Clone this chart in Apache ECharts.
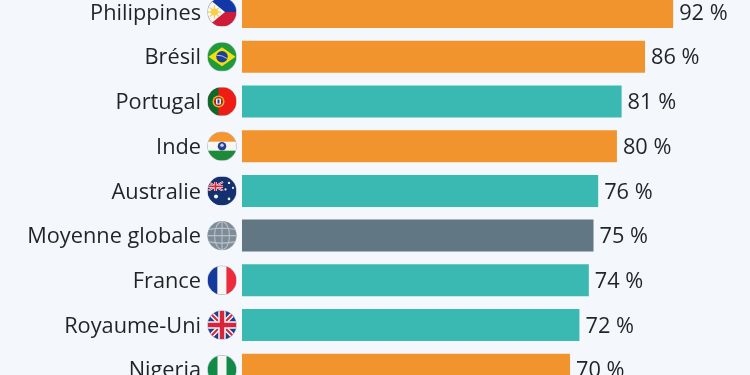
<!DOCTYPE html>
<html><head><meta charset="utf-8">
<style>html,body{margin:0;padding:0;background:#f4f8fc;overflow:hidden}#c{width:750px;height:375px}</style>
<script src="https://cdn.jsdelivr.net/npm/echarts@6/dist/echarts.min.js"></script>
</head><body><div id="c"></div>
<script>
const categories = ['Philippines','Brésil','Portugal','Inde','Australie','Moyenne globale','France','Royaume-Uni','Nigeria'];
const values = [92,86,81,80,76,75,74,72,70];
const groups = ['o','o','t','o','t','g','t','t','o'];
const groupColors = {o:'#f2942d',t:'#3ab8b2',g:'#627784'};
const flagKeys = ['ph','br','pt','in','au','gl','fr','uk','ng'];
const flagBodies = {
 ph:'<rect width="56" height="28" fill="#1238a8"/><rect y="28" width="56" height="28" fill="#ce1b3a"/><path d="M0 0L34 28L0 56Z" fill="#f6f6f6"/><path d="M13 15V41M0 28H26M4 19L22 37M4 37L22 19" stroke="#f7cf45" stroke-width="2.4"/><circle cx="13" cy="28" r="7" fill="#f7cf45"/>',
 br:'<rect width="56" height="56" fill="#1f9b3c"/><path d="M28 9L55 28L28 47L1 28Z" fill="#f6dc12"/><circle cx="28" cy="28" r="11.5" fill="#1c3f8f"/><path d="M17 25Q28 24 39 32" stroke="#dfe8f0" stroke-width="1.5" fill="none"/>',
 pt:'<rect width="56" height="56" fill="#ee1c14"/><rect width="21" height="56" fill="#0c6b2c"/><circle cx="21" cy="28" r="12" fill="#e3b92a"/><circle cx="21" cy="28" r="9" fill="#b81c1c"/><rect x="16" y="22" width="10" height="12" rx="2" fill="#f4f4f4"/><rect x="19" y="24" width="4" height="8" fill="#1c3f8f"/>',
 in:'<rect width="56" height="19" fill="#f7962e"/><rect y="19" width="56" height="18" fill="#f6f6f6"/><rect y="37" width="56" height="19" fill="#1d8a3a"/><circle cx="28" cy="28" r="8.5" fill="#26408f"/><circle cx="28" cy="26" r="3.5" fill="#c6d0e8"/>',
 au:'<rect width="56" height="56" fill="#13306f"/><path d="M0 10L30 28M30 10L0 28" stroke="#f2f2f2" stroke-width="4"/><path d="M0 10L30 28M30 10L0 28" stroke="#d8243c" stroke-width="1.6"/><path d="M15 10V28M0 19H30" stroke="#f2f2f2" stroke-width="6"/><path d="M15 10V28M0 19H30" stroke="#d8243c" stroke-width="3.5"/><rect y="28" width="34" height="28" fill="#13306f"/><g fill="#f4f4f4"><circle cx="16" cy="39" r="4"/><circle cx="42" cy="12" r="2.4"/><circle cx="42" cy="44" r="2.6"/><circle cx="35" cy="25" r="2.2"/><circle cx="50" cy="22" r="2.2"/></g>',
 gl:'<rect x="-2" y="-2" width="60" height="60" fill="#7f8c98"/><g stroke="#b6c0ca" stroke-width="2.2" fill="none"><path d="M0 16Q28 10 56 16M0 28H56M0 40Q28 46 56 40M28 0V56"/><ellipse cx="28" cy="28" rx="15" ry="28"/></g>',
 fr:'<rect width="19" height="56" fill="#12399c"/><rect x="19" width="18" height="56" fill="#f6f6f6"/><rect x="37" width="19" height="56" fill="#ee2a3b"/>',
 uk:'<rect width="56" height="56" fill="#1c3f8f"/><path d="M0 0L56 56M56 0L0 56" stroke="#f6f6f6" stroke-width="10"/><path d="M0 0L56 56M56 0L0 56" stroke="#d8243c" stroke-width="4"/><path d="M28 0V56M0 28H56" stroke="#f6f6f6" stroke-width="15"/><path d="M28 0V56M0 28H56" stroke="#d8243c" stroke-width="9"/>',
 ng:'<rect width="56" height="56" fill="#f6f6f6"/><rect width="19" height="56" fill="#128a47"/><rect x="37" width="19" height="56" fill="#128a47"/>'
};
function flagUri(k){
 const svg='<svg xmlns="http://www.w3.org/2000/svg" width="112" height="112" viewBox="0 0 60 60"><defs><clipPath id="a"><circle cx="28" cy="28" r="28.6"/></clipPath></defs><circle cx="30" cy="30" r="29.6" fill="#b9bfc4"/><g transform="translate(2 2)"><g clip-path="url(#a)">'+flagBodies[k]+'</g></g></svg>';
 return 'data:image/svg+xml;charset=utf-8,'+encodeURIComponent(svg);
}
const textColor='#1f2427';
const rich={name:{fontFamily:'"Open Sans"',fontSize:21.75,color:textColor,padding:[3,6,0,0]}};
flagKeys.forEach(k=>{rich[k]={width:30,height:30,backgroundColor:{image:flagUri(k)}}});
const chart=echarts.init(document.getElementById('c'),null,{renderer:'canvas'});
chart.setOption({
 animation:false,
 backgroundColor:'#f4f8fc',
 grid:{left:242,top:-10.3,width:703,height:402.4,containLabel:false,outerBoundsMode:'none'},
 xAxis:{type:'value',min:0,max:150,show:false},
 yAxis:{type:'category',inverse:true,data:categories,
  axisLine:{show:false},axisTick:{show:false},splitLine:{show:false},
  axisLabel:{margin:5,align:'right',verticalAlign:'middle',interval:0,
   formatter:(v,i)=>'{name|'+v+'}{'+flagKeys[i]+'|}',rich}},
 series:[{type:'bar',barWidth:32,
  data:values.map((v,i)=>({value:v,itemStyle:{color:groupColors[groups[i]]}})),
  label:{show:true,position:'right',distance:6,offset:[0,1.5],fontFamily:'"Open Sans"',fontSize:21.75,color:textColor,formatter:p=>p.value+' %'}}]
});
</script></body></html>
